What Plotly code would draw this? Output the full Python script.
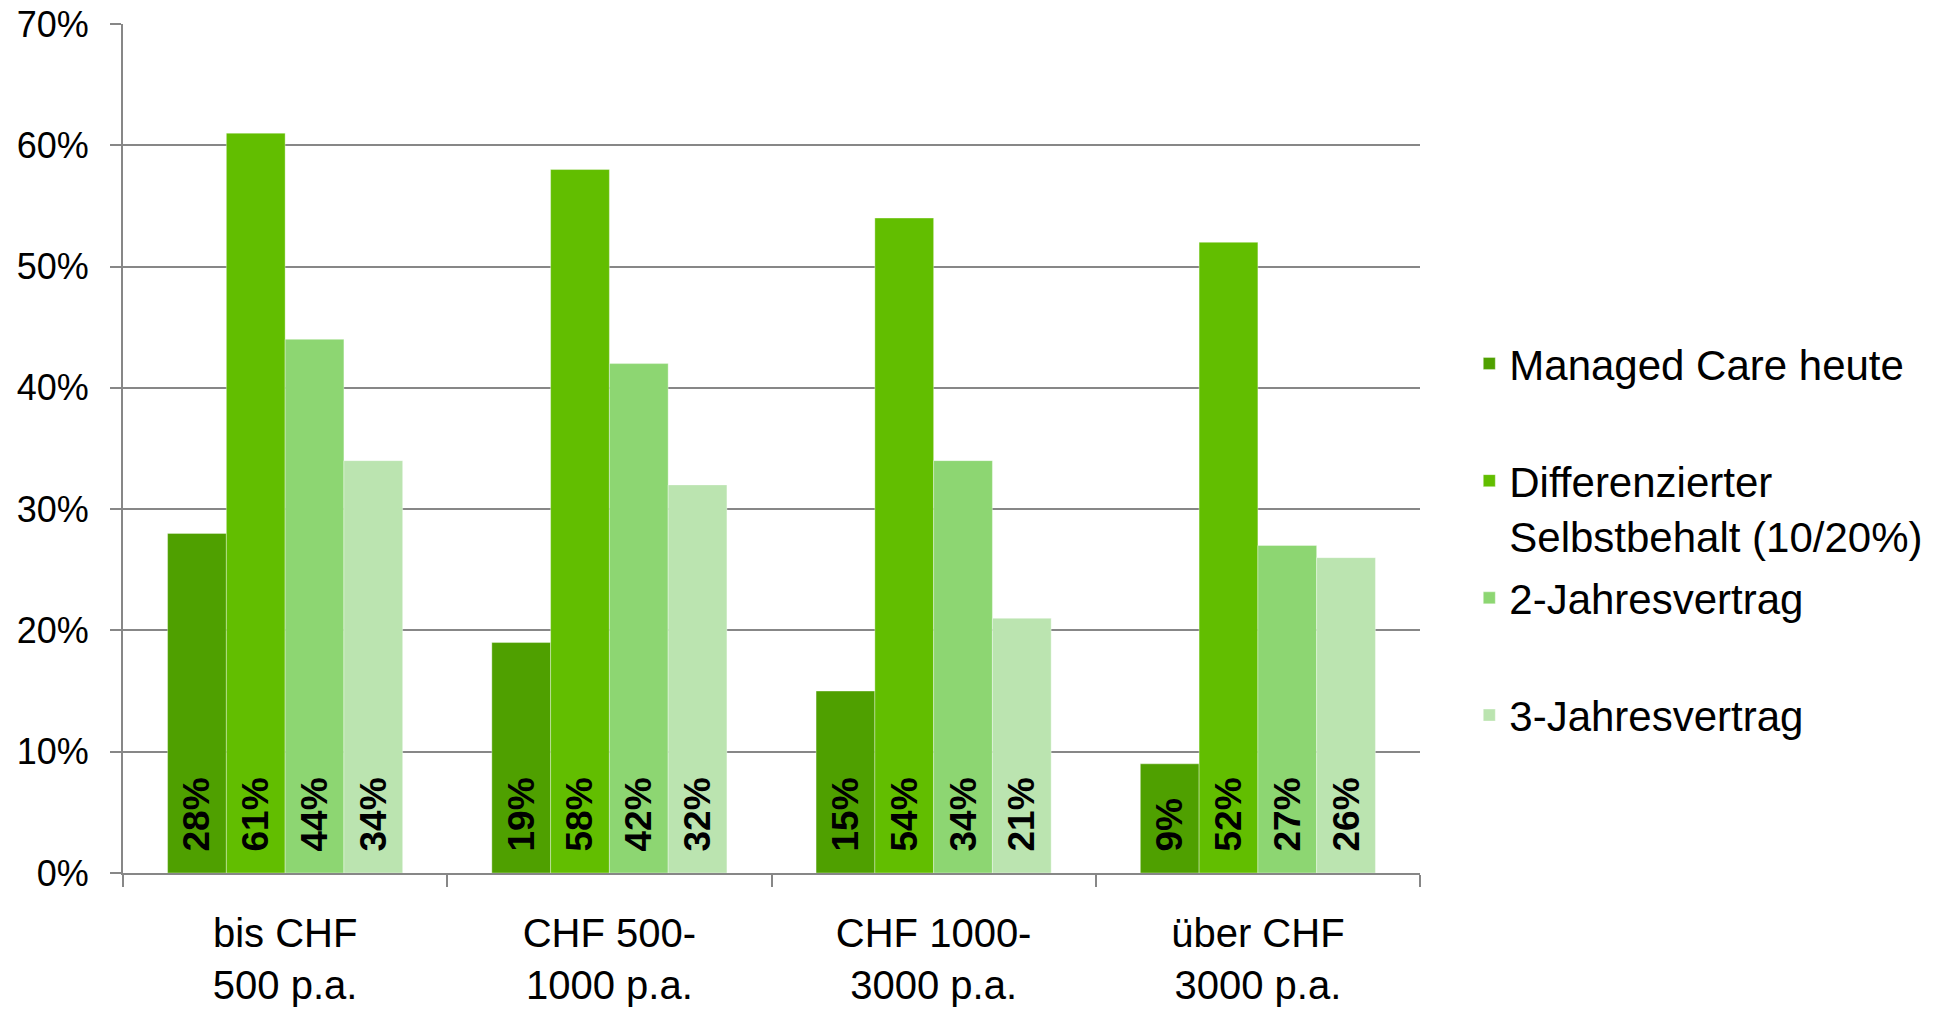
import plotly.graph_objects as go

# Deductible bands (x-axis categories)
categories = ["bis CHF<br>500 p.a.", "CHF 500-<br>1000 p.a.", "CHF 1000-<br>3000 p.a.", "über CHF<br>3000 p.a."]

# Share of respondents per model, in percent
managed_care_heute = [28, 19, 15, 9]
differenzierter_selbstbehalt = [61, 58, 54, 52]
zwei_jahresvertrag = [44, 42, 34, 27]
drei_jahresvertrag = [34, 32, 21, 26]

series_names = [
    "Managed Care heute",
    "Differenzierter<br>Selbstbehalt (10/20%)",
    "2-Jahresvertrag",
    "3-Jahresvertrag",
]
series_values = [managed_care_heute, differenzierter_selbstbehalt, zwei_jahresvertrag, drei_jahresvertrag]
series_colors = ["#4fa000", "#62be00", "#8dd672", "#bbe4b0"]

GRID = "#878787"
FONT = "Arial, Liberation Sans, sans-serif"

fig = go.Figure()
for i, (name, vals, col) in enumerate(zip(series_names, series_values, series_colors)):
    # pad single-line legend entries so every entry takes two lines
    legend_name = name if "<br>" in name else name + "<br>\u00a0"
    fig.add_trace(go.Bar(
        x=categories,
        y=vals,
        name=legend_name,
        legendgroup=f"g{i}",
        marker=dict(color=col, line=dict(color="rgba(255,255,255,0.35)", width=1)),
        text=[f"\u2002{v}%" for v in vals],
        textposition="inside",
        insidetextanchor="start",
        textangle=-90,
        textfont=dict(family=FONT, size=37, color="black", weight="bold"),
        constraintext="none",
        cliponaxis=False,
    ))

fig.update_layout(
    width=1952,
    height=1009,
    margin=dict(l=123, r=532, t=24, b=136, pad=0, autoexpand=False),
    paper_bgcolor="white",
    plot_bgcolor="white",
    barmode="group",
    bargap=0.275,
    bargroupgap=0,
    font=dict(family=FONT, color="black"),
    legend=dict(
        x=1.038, y=0.64, xanchor="left", yanchor="top",
        font=dict(family=FONT, size=42, color="black"),
        valign="top",
        tracegroupgap=5,
        bgcolor="rgba(0,0,0,0)",
    ),
    showlegend=True,
)

fig.update_yaxes(
    range=[0, 70],
    dtick=10,
    ticksuffix="%",
    showgrid=True, gridcolor=GRID, gridwidth=2,
    ticks="outside", ticklen=11, tickwidth=2, tickcolor=GRID,
    showline=True, linecolor=GRID, linewidth=2,
    zeroline=False,
    tickfont=dict(family=FONT, size=36, color="black"),
    ticklabelstandoff=14,
    automargin=False,
)

fig.update_xaxes(
    type="category",
    tickson="boundaries",
    ticks="outside", ticklen=12, tickwidth=2, tickcolor=GRID,
    showline=True, linecolor=GRID, linewidth=2,
    showgrid=False,
    tickfont=dict(family=FONT, size=40, color="black"),
    ticklabelstandoff=24,
    automargin=False,
)

fig.write_html("out.html")
